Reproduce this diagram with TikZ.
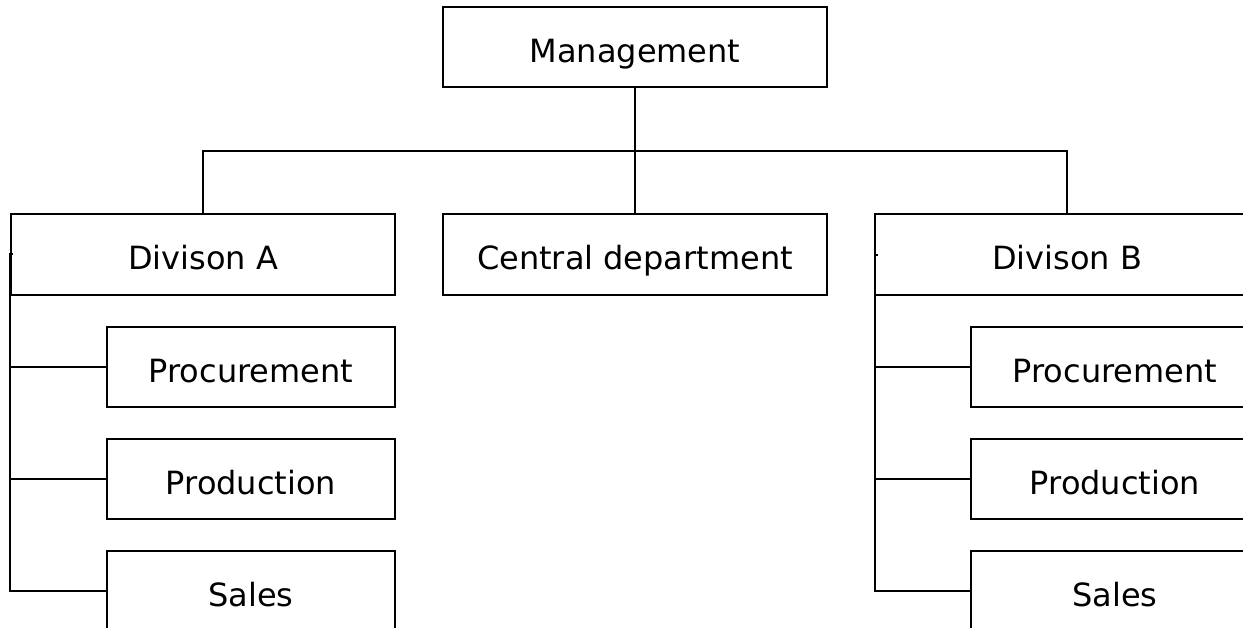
\documentclass[tikz,border=0pt]{standalone}
\usepackage{fontspec}
\setmainfont{DejaVu Sans}
\usepackage{tikz}
\usetikzlibrary{positioning}
\usetikzlibrary{calc}

\tikzset{
  orgbox/.style={draw, line width=2pt, rectangle, inner sep=0pt,
    text height=31pt, text depth=0pt,
    font=\fontsize{32}{38}\selectfont},
  bigbox/.style={orgbox, minimum width=384pt, minimum height=80pt},
  subbox/.style={orgbox, minimum width=288pt, minimum height=80pt},
  link/.style={line width=2pt}
}

\begin{document}
\begin{tikzpicture}[x=1pt,y=-1pt]
\useasboundingbox (0,0) rectangle (1243,628);
\clip (0,0) rectangle (1243,628);

\node[bigbox] (mgmt) at (635,47) {Management};

\node[bigbox, minimum height=81pt] (divA) at (203,254.5) {Divison A};
\node[bigbox, minimum height=81pt] (central) at (635,254.5) {Central department};
\node[bigbox, minimum height=81pt] (divB) at (1067,254.5) {Divison B};

\node[subbox] (procA) at (251,367) {Procurement};
\node[subbox] (prodA) at (251,479) {Production};
\node[subbox] (salesA) at (251,591) {Sales};

\node[subbox] (procB) at (1115,367) {Procurement};
\node[subbox] (prodB) at (1115,479) {Production};
\node[subbox] (salesB) at (1115,591) {Sales};

% top level
\coordinate (bus) at (635,151);
\draw[link] (mgmt.south) -- (central.north);
\draw[link] (divA.north) -- (divA.north |- bus) -- (divB.north |- bus) -- (divB.north);

% division A
\coordinate (trunkA) at (10,254);
\draw[link] ([xshift=3pt]trunkA) -- (trunkA) |- (salesA.west);
\draw[link] (trunkA |- procA.west) -- (procA.west);
\draw[link] (trunkA |- prodA.west) -- (prodA.west);

% division B
\coordinate (trunkB) at (875,255);
\draw[link] ([xshift=3pt]trunkB) -- (trunkB) |- (salesB.west);
\draw[link] (trunkB |- procB.west) -- (procB.west);
\draw[link] (trunkB |- prodB.west) -- (prodB.west);
\end{tikzpicture}
\end{document}
